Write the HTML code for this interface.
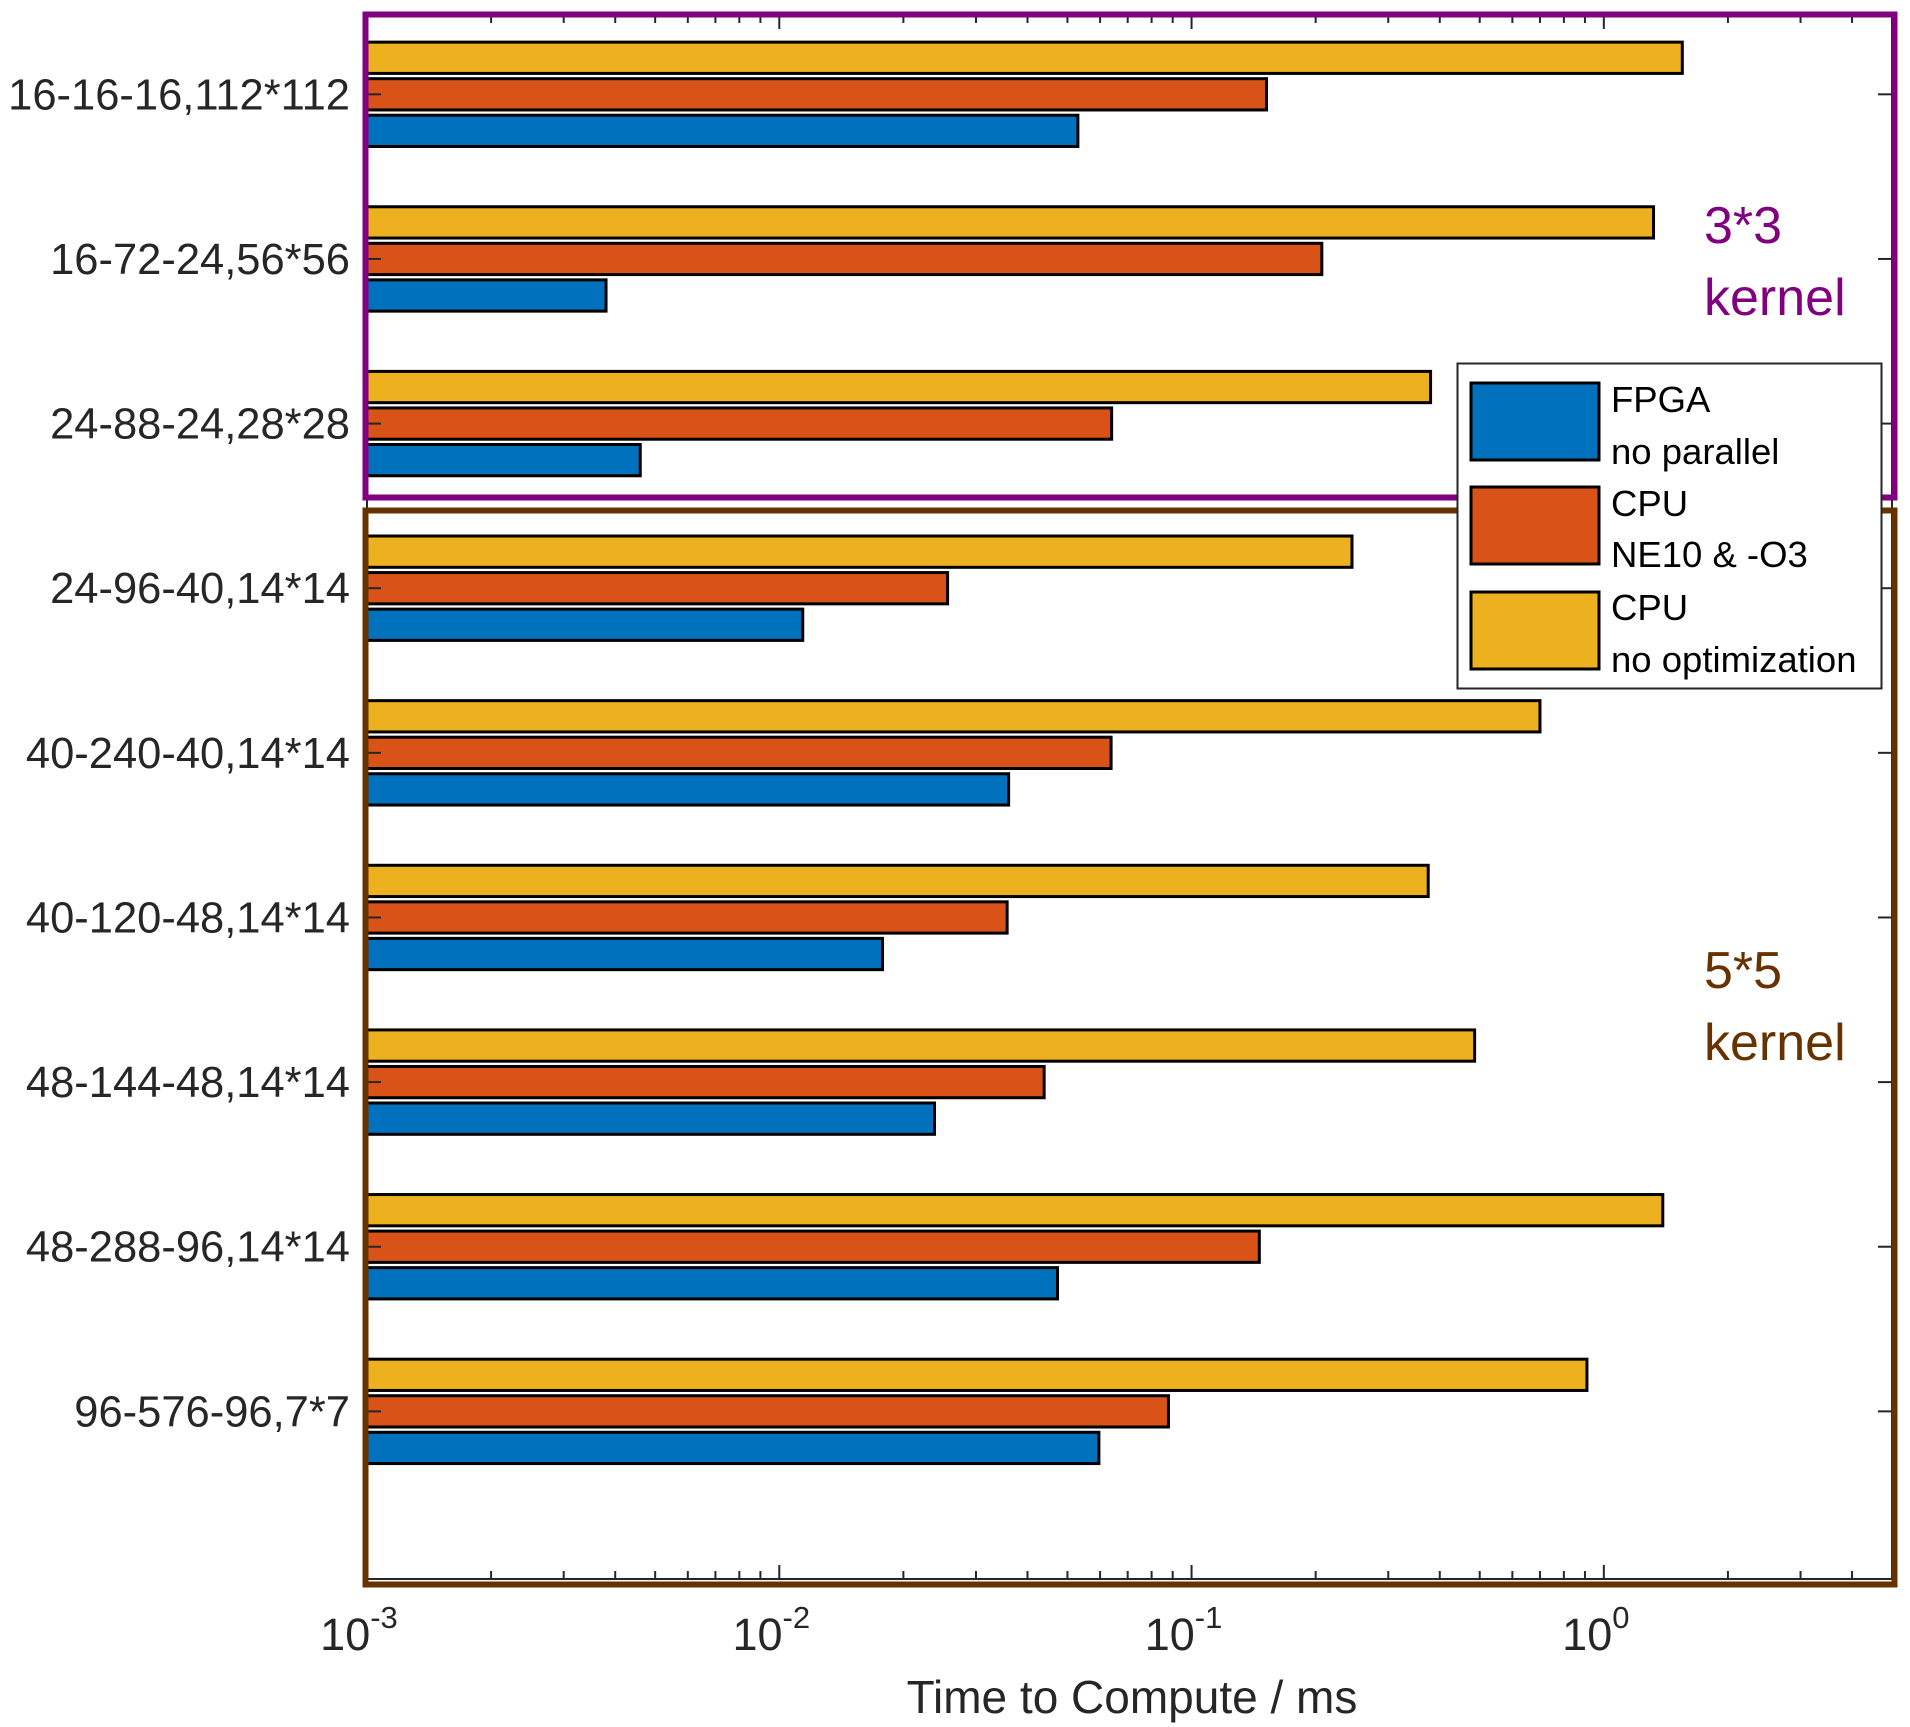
<!DOCTYPE html>
<html><head><meta charset="utf-8"><style>
html,body{margin:0;padding:0;background:#fff;}
svg{display:block;font-family:"Liberation Sans",Arial,sans-serif;}
</style></head><body>
<svg id="chart" width="1910" height="1727" viewBox="0 0 1910 1727" xmlns="http://www.w3.org/2000/svg">
<rect x="0" y="0" width="1910" height="1727" fill="#fff"/>
<g id="bars"></g>
<g id="axes"></g>
<rect x="365.5" y="14.5" width="1529" height="483" fill="none" stroke="#800080" stroke-width="6"/>
<rect x="365.5" y="510.5" width="1529" height="1074" fill="none" stroke="#663300" stroke-width="6"/>
<text x="1704" y="243" font-size="52" fill="#800080">3*3</text>
<text x="1704" y="315" font-size="52" fill="#800080">kernel</text>
<text x="1704" y="988" font-size="52" fill="#663300">5*5</text>
<text x="1704" y="1060" font-size="52" fill="#663300">kernel</text>
<g>
<rect x="1457.5" y="363.5" width="424" height="325" fill="#fff" stroke="#262626" stroke-width="2"/>
<rect x="1471" y="383" width="128" height="77" fill="#0072BD" stroke="#000" stroke-width="3"/>
<rect x="1471" y="487" width="128" height="77" fill="#D95319" stroke="#000" stroke-width="3"/>
<rect x="1471" y="592" width="128" height="77" fill="#EDB120" stroke="#000" stroke-width="3"/>
<g font-size="36.5" fill="#000">
<text x="1611" y="412">FPGA</text>
<text x="1611" y="464">no parallel</text>
<text x="1611" y="516">CPU</text>
<text x="1611" y="567">NE10 &amp; -O3</text>
<text x="1611" y="620">CPU</text>
<text x="1611" y="672">no optimization</text>
</g></g>
<text x="1132" y="1713" font-size="46" fill="#262626" text-anchor="middle">Time to Compute / ms</text>
</svg>
<script>
const categories = ["16-16-16,112*112","16-72-24,56*56","24-88-24,28*28","24-96-40,14*14","40-240-40,14*14","40-120-48,14*14","48-144-48,14*14","48-288-96,14*14","96-576-96,7*7"];
const fpga = [0.053,0.0038,0.0046,0.0114,0.036,0.0178,0.0238,0.0473,0.0596];
const cpuNe10 = [0.152,0.207,0.064,0.0256,0.0638,0.0357,0.0439,0.146,0.0879];
const cpuNoOpt = [1.55,1.32,0.38,0.245,0.70,0.375,0.486,1.39,0.91];
const xTickExps = [-3,-2,-1,0];

const NS="http://www.w3.org/2000/svg";
const L=367,R=1892,T=15,B=1579;
const xmin=-3,xmax=Math.log10(5);
function X(v){return L+(Math.log10(v)-xmin)/(xmax-xmin)*(R-L);}
function Y(c){return T-3+(c-0.5)/9.5*(B-T);}
function mk(tag,attrs,parent){const e=document.createElementNS(NS,tag);for(const k in attrs)e.setAttribute(k,attrs[k]);parent.appendChild(e);return e;}
const bars=document.getElementById('bars'),axes=document.getElementById('axes');
const series=[[fpga,'#0072BD',0.222,'fpga'],[cpuNe10,'#D95319',0,'cpu-ne10'],[cpuNoOpt,'#EDB120',-0.222,'cpu-noopt']];
const bh=0.19;
series.forEach(s=>{
  s[0].forEach((v,i)=>{
    const yc=Y(i+1+s[2]);const h=bh/9.5*(B-T);
    const r=mk('rect',{x:L,y:yc-h/2,width:X(v)-L,height:h,fill:s[1],stroke:'#000','stroke-width':3},bars);
    
    
  });
});
mk('rect',{x:L,y:T,width:R-L,height:B-T,fill:'none',stroke:'#262626','stroke-width':2},axes);
categories.forEach((c,i)=>{
  const y=Y(i+1);
  mk('line',{x1:L,x2:L+14,y1:y,y2:y,stroke:'#262626','stroke-width':2},axes);
  mk('line',{x1:R,x2:R-14,y1:y,y2:y,stroke:'#262626','stroke-width':2},axes);
  const t=mk('text',{x:350,y:y+15,'font-size':43.5,fill:'#262626','text-anchor':'end'},axes);
  t.textContent=c;
  
  
});
for(let e=-3;e<=0;e++){
  for(let m=1;m<=9;m++){
    const v=m*Math.pow(10,e); if(v>5)break;
    const x=X(v); const len=m===1?14:8;
    mk('line',{x1:x,x2:x,y1:B,y2:B-len,stroke:'#262626','stroke-width':2},axes);
    mk('line',{x1:x,x2:x,y1:T,y2:T+len,stroke:'#262626','stroke-width':2},axes);
  }
}
xTickExps.forEach(e=>{
  const x=X(Math.pow(10,e));
  const t=mk('text',{x:x-8,y:1650,'font-size':45,fill:'#262626','text-anchor':'middle'},axes);
  
  
  t.textContent='10';
  const s=document.createElementNS(NS,'tspan');
  s.setAttribute('dy','-22');s.setAttribute('font-size','31');
  s.textContent=String(e);
  t.appendChild(s);
});
</script>
</body></html>
